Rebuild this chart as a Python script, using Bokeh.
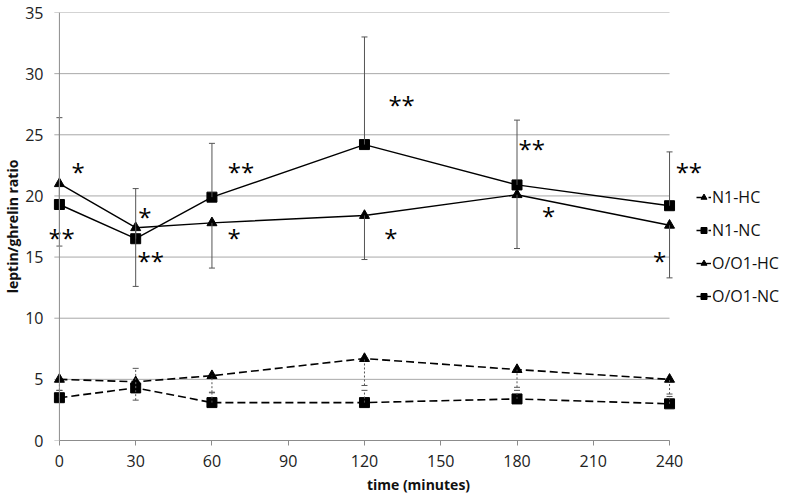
from bokeh.plotting import figure
from bokeh.models import (ColumnDataSource, Whisker, TeeHead, Legend, LegendItem,
                          FixedTicker, Range1d, Span)
from bokeh.core.properties import value
from bokeh.embed import file_html
from bokeh.resources import INLINE

# ---- data ----
time_min = [0, 30, 60, 120, 180, 240]
n1_hc = [5.0, 4.8, 5.3, 6.7, 5.8, 5.0]
n1_nc = [3.5, 4.3, 3.1, 3.1, 3.4, 3.0]
o_hc = [21.0, 17.4, 17.8, 18.4, 20.1, 17.6]
o_nc = [19.3, 16.5, 19.9, 24.2, 20.9, 19.2]
# error bars (one-sided as in the original)
n1_hc_err_minus = [0.9, 1.5, 1.35, 2.2, 1.45, 1.2]
n1_nc_err_plus = [0.6, 1.6, 0.8, 1.0, 0.7, 0.6]
o_hc_err_minus = [5.1, 4.8, 3.7, 3.6, 4.4, 4.3]
o_nc_err_plus = [7.1, 4.1, 4.4, 8.8, 5.3, 4.4]
# significance markers
star_x = [7.4, 0.8, 33.6, 35.9, 71.4, 68.7, 134.6, 130.4, 185.8, 192.4, 247.6, 236.1]
star_y = [22.0, 16.6, 18.3, 14.7, 22.0, 16.6, 27.5, 16.6, 23.9, 18.4, 22.0, 14.7]
star_text = ["*", "**", "*", "**", "**", "*", "**", "*", "**", "*", "**", "*"]
x_ticks = [0, 30, 60, 90, 120, 150, 180, 210, 240]
y_ticks = [0, 5, 10, 15, 20, 25, 30, 35]

FONT = "Open Sans"
X_MIN, X_MAX = 0, 240
# view window: room left of 0 (tick stubs, star labels) and on the right for the legend
VIEW_LO, VIEW_HI = -3.9, 286.4
STUB_LO = -2.0

p = figure(width=787, height=496, output_backend="svg", toolbar_location=None,
           x_range=Range1d(VIEW_LO, VIEW_HI), y_range=Range1d(0, 35),
           min_border_top=12, min_border_right=0, min_border_left=43, min_border_bottom=0)
p.outline_line_color = None
p.background_fill_color = "white"
p.xgrid.visible = False
p.ygrid.visible = False

GRID = "#a8a8a8"
AXIS = "#8c8c8c"

# horizontal gridlines between the y axis and x = 240 (with small stubs left of the axis)
grid_src = ColumnDataSource(dict(y=y_ticks, x0=[STUB_LO] * len(y_ticks), x1=[X_MAX] * len(y_ticks)))
p.segment(x0="x0", x1="x1", y0="y", y1="y", source=grid_src, line_color=GRID, line_width=1)
p.add_layout(Span(location=X_MIN, dimension="height", line_color=AXIS, line_width=1))

for ax in (p.xaxis[0], p.yaxis[0]):
    ax.major_tick_line_color = AXIS
    ax.minor_tick_line_color = None
    ax.major_tick_in = 0
    ax.major_label_text_font = FONT
    ax.major_label_text_font_size = "16px"
    ax.major_label_text_color = "#222222"
    ax.axis_label_text_font = FONT
    ax.axis_label_text_font_style = "bold"
    ax.axis_label_text_font_size = "14px"
    ax.axis_label_text_color = "#111111"

p.xaxis.axis_line_color = AXIS
p.xaxis.major_tick_out = 5
p.xaxis.bounds = (X_MIN, X_MAX)
p.yaxis.axis_line_color = None
p.yaxis.major_tick_out = 0
p.xaxis.ticker = FixedTicker(ticks=x_ticks)
p.yaxis.ticker = FixedTicker(ticks=y_ticks)
p.xaxis.axis_label = "time (minutes)"
p.yaxis.axis_label = "leptin/ghrelin ratio"
p.xaxis.major_label_standoff = 9
p.yaxis.major_label_standoff = 6
p.xaxis.axis_label_standoff = 5
p.yaxis.axis_label_standoff = 0

src = ColumnDataSource(dict(
    t=time_min,
    n1_hc=n1_hc, n1_nc=n1_nc, o_hc=o_hc, o_nc=o_nc,
    n1_hc_lo=[v - e for v, e in zip(n1_hc, n1_hc_err_minus)],
    n1_nc_hi=[v + e for v, e in zip(n1_nc, n1_nc_err_plus)],
    o_hc_lo=[v - e for v, e in zip(o_hc, o_hc_err_minus)],
    o_nc_hi=[v + e for v, e in zip(o_nc, o_nc_err_plus)],
))

def whisker(lower, upper, dashed, head_top):
    w = Whisker(source=src, base="t", lower=lower, upper=upper,
                line_color="#555555", line_width=1, level="glyph")
    if dashed:
        w.line_dash = "2 2"
    th = TeeHead(size=6, line_color="#555555", line_width=1)
    if head_top:
        w.upper_head = th
        w.lower_head = None
    else:
        w.lower_head = th
        w.upper_head = None
    p.add_layout(w)

whisker("o_nc", "o_nc_hi", False, True)
whisker("o_hc_lo", "o_hc", False, False)
whisker("n1_nc", "n1_nc_hi", True, True)
whisker("n1_hc_lo", "n1_hc", True, False)

l1 = p.line("t", "n1_hc", source=src, line_color="black", line_width=1.6, line_dash="8 4")
m1 = p.scatter("t", "n1_hc", source=src, marker="triangle", size=10, color="black")
l2 = p.line("t", "n1_nc", source=src, line_color="black", line_width=1.6, line_dash="8 4")
m2 = p.scatter("t", "n1_nc", source=src, marker="square", size=10, color="black")
l3 = p.line("t", "o_hc", source=src, line_color="black", line_width=1.4)
m3 = p.scatter("t", "o_hc", source=src, marker="triangle", size=10, color="black")
l4 = p.line("t", "o_nc", source=src, line_color="black", line_width=1.4)
m4 = p.scatter("t", "o_nc", source=src, marker="square", size=10, color="black")

stars = ColumnDataSource(dict(x=star_x, y=star_y, txt=star_text))
p.text("x", "y", text="txt", source=stars, text_font=value(FONT),
       text_font_size="24px", text_align="center", text_baseline="middle",
       y_offset=0, text_color="black")

legend = Legend(items=[
    LegendItem(label="N1-HC", renderers=[l1, m1]),
    LegendItem(label="N1-NC", renderers=[l2, m2]),
    LegendItem(label="O/O1-HC", renderers=[l3, m3]),
    LegendItem(label="O/O1-NC", renderers=[l4, m4]),
], location=(647, 133))
legend.label_text_font = FONT
legend.label_text_font_size = "16px"
legend.label_text_color = "#111111"
legend.glyph_width = 15
legend.glyph_height = 20
legend.label_height = 20
legend.spacing = 11
legend.label_standoff = 1
legend.padding = 0
legend.margin = 0
legend.border_line_color = None
legend.background_fill_alpha = 0
p.add_layout(legend)

open("out.html", "w").write(file_html(p, INLINE))
